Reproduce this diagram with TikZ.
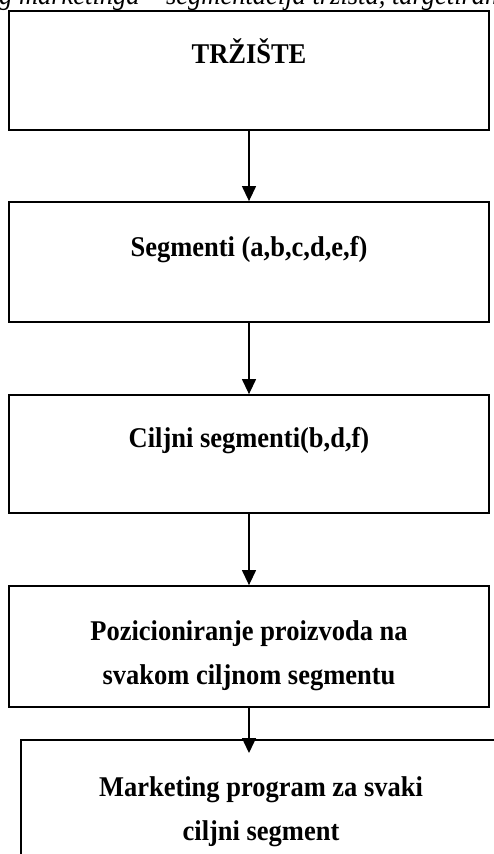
\documentclass[tikz,border=0pt]{standalone}
\usepackage{fontspec}
\setmainfont{Liberation Serif}[FakeStretch=0.926]
\usetikzlibrary{arrows.meta}
\begin{document}
\begin{tikzpicture}[x=1pt,y=-1pt,
  box/.style={draw=black,line width=1.8pt,rectangle,inner sep=0pt,minimum width=480pt},
  lbl/.style={font=\fontsize{28.6}{44}\selectfont\bfseries,align=center,inner sep=0pt,anchor=base},
  headline/.style={font=\fontsize{28.6}{32}\selectfont\itshape,inner sep=0pt,anchor=base west},
  flow/.style={draw=black,line width=1.3pt,-{Triangle[length=15pt,width=14pt]}}]
  \useasboundingbox (0,0) rectangle (494,854);
  \clip (0,0) rectangle (494,854);
  \fill[white] (0,0) rectangle (494,854);

  % caption line above the chart
  \node[headline] (title) at (-1,4) {g marketinga – segmentacija tržišta, targetiranje};

  % boxes
  \node[box,minimum height=119pt] (b1) at (249,70.5) {};
  \node[box,minimum height=120pt] (b2) at (249,262) {};
  \node[box,minimum height=118pt] (b3) at (249,454) {};
  \node[box,minimum height=121pt] (b4) at (249,646.5) {};
  \node[box,minimum height=140pt] (b5) at (261,810) {};

  % labels (two-line labels are anchored on their last line)
  \node[lbl] (t1) at (249,63) {TRŽIŠTE};
  \node[lbl] (t2) at (249,256) {Segmenti (a,b,c,d,e,f)};
  \node[lbl] (t3) at (249,447) {Ciljni segmenti(b,d,f)};
  \node[lbl] (t4) at (249,684) {Pozicioniranje proizvoda na\\svakom ciljnom segmentu};
  \node[lbl] (t5) at (261,840) {Marketing program za svaki\\ciljni segment};

  % connectors
  \coordinate (e4) at (249,753);
  \draw[flow] (b1.south) -- (b2.north);
  \draw[flow] (b2.south) -- (b3.north);
  \draw[flow] (b3.south) -- (b4.north);
  \draw[flow] (b4.south) -- (e4);
\end{tikzpicture}
\end{document}
